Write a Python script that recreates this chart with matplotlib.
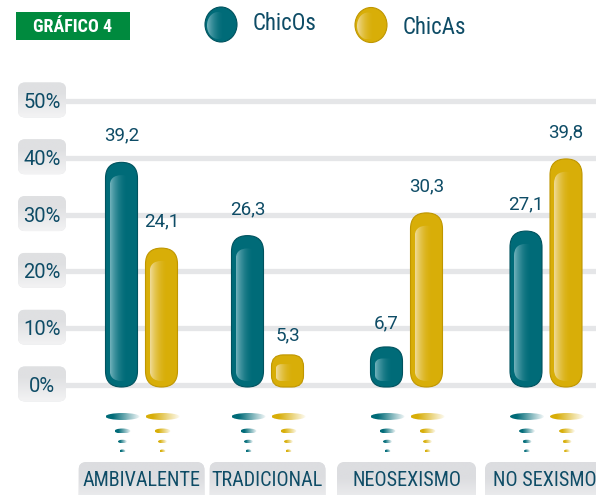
import numpy as np
import matplotlib as mpl
mpl.use('Agg')
import matplotlib.pyplot as plt
from matplotlib.patches import FancyBboxPatch, Ellipse, Rectangle

W, H = 596, 495

# data
categories = ['AMBIVALENTE', 'TRADICIONAL', 'NEOSEXISMO', 'NO SEXISMO']
series_names = ['ChicOs', 'ChicAs']
chicos = [39.2, 26.3, 6.7, 27.1]
chicas = [24.1, 5.3, 30.3, 39.8]
y_ticks = [0, 10, 20, 30, 40, 50]
title = 'GRÁFICO 4'

# layout (pixels)
group_x = [141.5, 267.5, 406.5, 546]
bar_off = [-20, 20]
bar_w = 32
cat_box_w = [126, 116, 139, 122]

TEAL, TEAL_EDGE, TEAL_LIGHT = '#006b78', '#00525e', '#74b3bd'
GOLD, GOLD_EDGE, GOLD_LIGHT = '#d8ae08', '#bf9600', '#f0dc9a'
TXT = '#0e4c66'
GRID = '#e5e6e8'

NARROW = ['Roboto Condensed', 'Noto Sans Condensed', 'Open Sans Condensed',
          'Liberation Sans Narrow', 'Roboto', 'DejaVu Sans']
REG = ['Roboto', 'Liberation Sans', 'DejaVu Sans']

fig = plt.figure(figsize=(W / 100, H / 100), dpi=100)
fig.patch.set_facecolor('white')

# data axes: only gives the value scale
ax = fig.add_axes([0, (H - 385) / H, 1, (385 - 101) / H])
ax.set_xlim(0, W)
ax.set_ylim(0, 50)
ax.axis('off')

# overlay in pixel coords for drawing
ov = fig.add_axes([0, 0, 1, 1])
ov.set_xlim(0, W)
ov.set_ylim(H, 0)
ov.axis('off')


def px(x, v):
    d = ax.transData.transform((x, v))
    return d[0], H - d[1]


def gradient(patch, box, c0, c1, a0=1.0, a1=1.0, vertical=False, start=0.0, stop=1.0, z=3):
    x0, y0, x1, y1 = box
    t = np.linspace(0, 1, 128)
    t = np.clip((t - start) / (stop - start), 0, 1)
    c0 = np.array(mpl.colors.to_rgb(c0))
    c1 = np.array(mpl.colors.to_rgb(c1))
    rgb = c0[None, :] * (1 - t[:, None]) + c1[None, :] * t[:, None]
    a = a0 * (1 - t) + a1 * t
    rgba = np.concatenate([rgb, a[:, None]], axis=1)
    img = rgba[:, None, :] if vertical else rgba[None, :, :]
    im = ov.imshow(img, extent=(x0, x1, y1, y0), aspect='auto',
                   interpolation='bilinear', zorder=z)
    im.set_clip_path(patch)


def rbox(x, y, w, h, r, **kw):
    p = FancyBboxPatch((x, y), w, h, boxstyle='round,pad=0,rounding_size=%g' % r, **kw)
    ov.add_patch(p)
    return p


# gridlines + tick boxes
for v in y_ticks:
    _, y = px(0, v)
    ov.plot([60, W], [y, y], lw=3.8, color=GRID, solid_capstyle='butt', zorder=1)
    b = rbox(18, y - 18.5, 48, 35, 7, fc='#e3e4e6', ec='none', zorder=2)
    gradient(b, (18, y - 18.5, 66, y + 16.5), '#dfe0e2', '#f3f3f4', vertical=True, start=0.3, z=2)
    ov.text(42, y + 1.5, '%d%%' % v, ha='center', va='center', fontsize=14.5,
            color=TXT, family=REG, zorder=4)

# bars
series = [(chicos, TEAL, TEAL_EDGE, TEAL_LIGHT), (chicas, GOLD, GOLD_EDGE, GOLD_LIGHT)]
for i, cat in enumerate(categories):
    for j, (vals, base, edge, light) in enumerate(series):
        cx = group_x[i] + bar_off[j]
        v = vals[i]
        _, top = px(cx, v)
        _, bottom = px(cx, 0)
        bottom += 2
        h = bottom - top
        r = min(bar_w / 2, h * 0.36)
        rbox(cx - bar_w / 2, top, bar_w, h, r, fc=base, ec=edge, lw=0.8, zorder=3)
        # glossy highlight
        ix0, iw = cx - bar_w / 2 + 4, bar_w - 8
        itop, ibot = top + r * 0.8, bottom - 6
        ir = min(iw / 2, (ibot - itop) * 0.36)
        inner = rbox(ix0, itop, iw, ibot - itop, ir, fc='none', ec='none', zorder=3)
        gradient(inner, (ix0, itop, ix0 + iw, ibot), light, base, a0=1.0, a1=0.0, stop=0.75, z=3.5)
        # value label
        label = ('%.1f' % v).replace('.', ',')
        ov.text(cx, top - (1.6 * r + 1), label, ha='center', va='center', fontsize=13.5,
                color=TXT, family=REG, zorder=4)
        # reflections under the bars
        for ry, rw, rh in [(416.5, 34, 7), (431, 16, 5), (441.5, 9, 3.5), (451, 6, 3)]:
            e = Ellipse((cx + 1, ry), rw, rh, fc='none', ec='none')
            ov.add_patch(e)
            gradient(e, (cx + 1 - rw / 2, ry - rh / 2, cx + 1 + rw / 2, ry + rh / 2),
                     base, base, a0=1.0, a1=0.05, start=0.2, z=3)

# category boxes
for i, cat in enumerate(categories):
    w = cat_box_w[i]
    x0 = group_x[i] - w / 2
    b = rbox(x0, 462, w, 45, 8, fc='#e2e3e5', ec='none', zorder=2)
    gradient(b, (x0, 462, x0 + w, 507), '#dcdde0', '#f4f4f5', vertical=True, start=0.35, z=2)
    ov.text(min(group_x[i], 545), 480.5, cat, ha='center', va='center', fontsize=14.5,
            color=TXT, family=NARROW, zorder=4)

# title box
ov.add_patch(Rectangle((16, 12), 114, 28, fc='#008a3e', ec='none', zorder=3))
ov.text(73, 26.5, title, ha='center', va='center', fontsize=13, fontweight='bold',
        color='white', family=NARROW, zorder=4)

# legend
for (lx, ly, tx, ty), name, (_, base, edge, light) in zip(
        [(221, 24.5, 253, 23.5), (371, 25, 403, 28)], series_names, series):
    ov.add_patch(Ellipse((lx, ly), 32, 35, fc=base, ec=edge, lw=0.8, zorder=3))
    e = Ellipse((lx - 3, ly + 1), 22, 27, fc='none', ec='none')
    ov.add_patch(e)
    gradient(e, (lx - 14, ly - 12.5, lx + 8, ly + 14.5), light, base, a0=1.0, a1=0.0, stop=0.8, z=3.5)
    ov.text(tx, ty, name, ha='left', va='center', fontsize=16.5, color=TXT, family=NARROW, zorder=4)

ov.set_xlim(0, W)
ov.set_ylim(H, 0)

fig.savefig('out.png', dpi=100)
